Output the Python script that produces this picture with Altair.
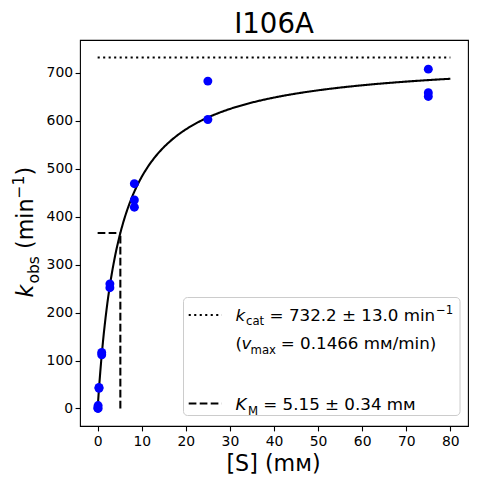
import altair as alt
import pandas as pd
import numpy as np

# ---- data ----
substrate_mM = [0.034, 0.103, 0.103, 0.309, 0.309, 0.926, 0.926, 2.78, 2.78,
                8.33, 8.33, 8.33, 25, 25, 75, 75, 75]
k_obs = [1, 0, 6, 42, 44, 112, 117, 252, 260,
         420, 435, 469, 603, 683, 651, 659, 708]
kcat = 732.2          # min^-1 (fitted)
KM = 5.15             # mM (fitted)
x_ticks = [0, 10, 20, 30, 40, 50, 60, 70, 80]
y_ticks = [0, 100, 200, 300, 400, 500, 600, 700]

FONT = "DejaVu Sans"

points = pd.DataFrame({"S": substrate_mM, "k": k_obs})
S_fit = np.linspace(0, 80, 401)
fit = pd.DataFrame({"S": S_fit, "k": kcat * S_fit / (KM + S_fit)})
kcat_line = pd.DataFrame({"S": [0, 80], "k": [kcat, kcat]})
km_v = pd.DataFrame({"S": [KM, KM], "k": [0, kcat / 2]})
km_h = pd.DataFrame({"S": [0, KM], "k": [kcat / 2, kcat / 2]})

xs = alt.Scale(domain=[-4, 84], nice=False, zero=False)
ys = alt.Scale(domain=[-36.61, 768.81], nice=False, zero=False)
X = alt.X("S:Q", scale=xs, axis=alt.Axis(values=x_ticks, title=None, labelPadding=4))
Y = alt.Y("k:Q", scale=ys, axis=alt.Axis(values=y_ticks, title=None, labelPadding=2.5))

dummy = alt.Data(values=[{"a": 1}])

def txt(s, x, y, size, italic=False, angle=0, align="left"):
    return alt.Chart(dummy).mark_text(
        text=s, font=FONT, fontSize=size,
        fontStyle="italic" if italic else "normal",
        align=align, baseline="alphabetic", angle=angle, color="black"
    ).encode(x=alt.value(x), y=alt.value(y))

DOT = [2.1, 3.4]
DASH = [7.7, 3.3]
LW = 2.08

curve = alt.Chart(fit).mark_line(color="black", strokeWidth=LW).encode(x=X, y=Y)
kcat_l = alt.Chart(kcat_line).mark_line(color="black", strokeWidth=LW, strokeDash=DOT).encode(x=X, y=Y)
kmv_l = alt.Chart(km_v).mark_line(color="black", strokeWidth=LW, strokeDash=DASH).encode(x=X, y=Y)
kmh_l = alt.Chart(km_h).mark_line(color="black", strokeWidth=LW, strokeDash=DASH).encode(x=X, y=Y)
pts = alt.Chart(points).mark_circle(size=80, color="#0000ff", opacity=1).encode(x=X, y=Y)

# legend box
legend_box = alt.Chart(dummy).mark_rect(
    fill="white", fillOpacity=0.8, stroke="#cccccc", strokeWidth=1, cornerRadius=4
).encode(x=alt.value(103.5), x2=alt.value(380), y=alt.value(257.5), y2=alt.value(375.5))
leg_dot = alt.Chart(dummy).mark_rule(color="black", strokeWidth=LW, strokeDash=DOT).encode(
    x=alt.value(108.7), x2=alt.value(141.8), y=alt.value(275))
leg_dash = alt.Chart(dummy).mark_rule(color="black", strokeWidth=LW, strokeDash=DASH).encode(
    x=alt.value(108.7), x2=alt.value(141.8), y=alt.value(363.5))

L = 16.7
S = 11.7
SP = 0.318 * L   # width of a space (SVG drops leading spaces)
legend_texts = [
    txt("k", 155.5, 280.5, L, italic=True),
    txt("cat", 166, 285, S),
    txt("= 732.2 \u00b1 13.0 min", 184.3 + SP, 280.5, L),
    txt("\u22121", 356, 274, S),
    txt("(", 155.5, 309, L),
    txt("v", 161.5, 309, L, italic=True),
    txt("max", 170.5, 313.5, S),
    txt("= 0.1466 m\u1d0d/min)", 195.5 + SP, 309, L),
    txt("K", 155.5, 370, L, italic=True),
    txt("M", 168, 374.5, S),
    txt("= 5.15 \u00b1 0.34 m\u1d0d", 178 + SP, 370, L),
]

# axis titles and chart title
T = 22.2
TS = 15.5
ylabel = [
    txt("k", -47, 257.5, T, italic=True, angle=270),
    txt("obs", -41, 243.5, TS, angle=270),
    txt("(min", -47, 216 - 0.318 * T, T, angle=270),
    txt("\u22121", -55.7, 158.4, TS, angle=270),
    txt(")", -47, 135.5, T, angle=270),
]
xlabel = txt("[S] (m\u1d0d)", 193.5, 430.5, T, align="center")
title = txt("I106A", 194, -7, 27.6, align="center")

chart = alt.layer(
    kcat_l, kmv_l, kmh_l, curve, pts, legend_box, leg_dot, leg_dash,
    *legend_texts, *ylabel, xlabel, title
).properties(
    width=388, height=386,
    autosize=alt.AutoSizeParams(type="none"),
    padding={"left": 72, "top": 32, "right": 1, "bottom": 50},
).configure_view(
    stroke="black", strokeWidth=1.1
).configure_axis(
    labelFont=FONT, labelFontSize=13.9, labelColor="black",
    tickColor="black", tickSize=4.9, tickWidth=1.1,
    domain=False, grid=False
)

chart.save("out.html", embed_options={"renderer": "svg", "actions": False})
